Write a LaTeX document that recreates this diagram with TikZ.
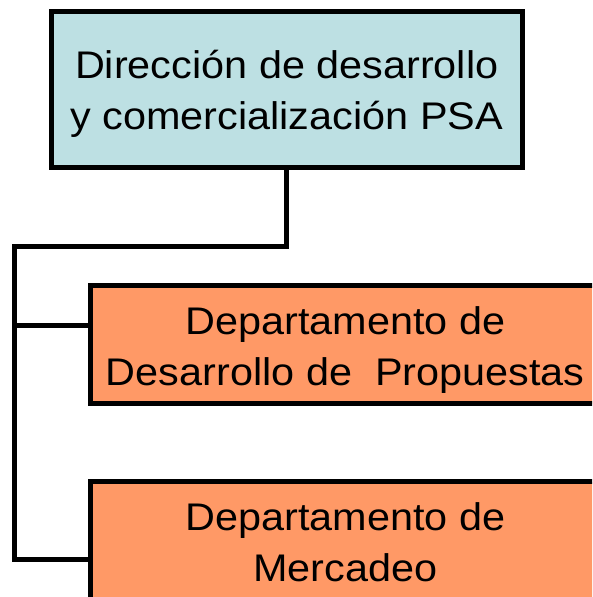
\documentclass[tikz,border=0pt]{standalone}
\usepackage{fontspec}
\setmainfont[FakeStretch=1.075]{Liberation Sans}
\usetikzlibrary{positioning}
\definecolor{dirfill}{RGB}{189,224,227}
\definecolor{depfill}{RGB}{255,153,102}
\newcommand{\boxstrut}{\rule[-10pt]{0pt}{50pt}}
\tikzset{
  unit/.style={draw=black, line width=5pt, align=center, inner sep=0pt,
    font=\fontsize{38.5}{49.5}\selectfont},
  link/.style={line width=5pt}
}

\begin{document}
\begin{tikzpicture}[x=1pt, y=-1pt]
     \useasboundingbox (0,0) rectangle (592,597);
     \begin{scope}
      \clip (0,0) rectangle (592,597);
      \node[unit, fill=dirfill, minimum width=470.5pt, minimum height=155.5pt] (dir) at (286.75,89.25) {\boxstrut Dirección de desarrollo\\\boxstrut y comercialización PSA};
      \node[unit, fill=depfill, minimum width=509.5pt, minimum height=118pt] (des) at (345.25,344.5) {\boxstrut Departamento de\\\boxstrut Desarrollo de \ Propuestas};
      \node[unit, fill=depfill, minimum width=509.5pt, minimum height=118pt] (mer) at (345.25,540.5) {\boxstrut Departamento de\\\boxstrut Mercadeo};
      \coordinate (trunk) at (14,246);
      \coordinate (b1) at (14,325);
      \coordinate (b2) at (14,559.5);
      \draw[link] (dir.south) |- (trunk) -- (b2) -- (b2 -| mer.west);
      \draw[link] (b1) -- (b1 -| des.west);
     \end{scope}
\end{tikzpicture}
\end{document}
